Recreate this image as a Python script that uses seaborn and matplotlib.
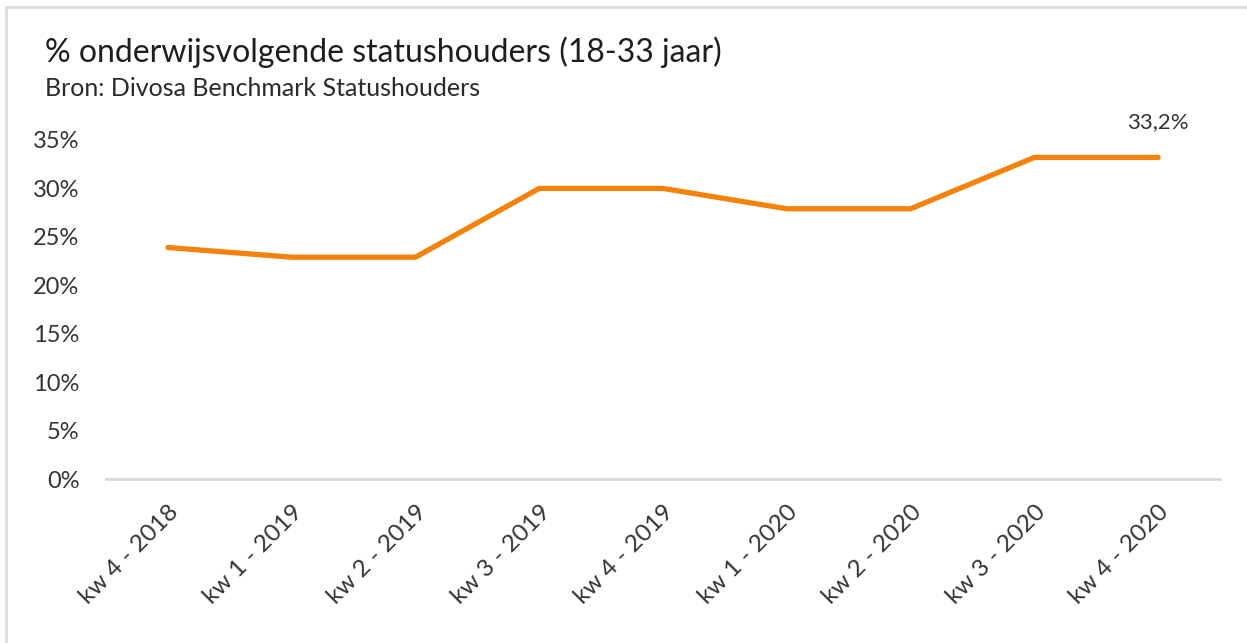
import matplotlib
matplotlib.use("Agg")
import matplotlib.pyplot as plt
import seaborn as sns
import pandas as pd
from matplotlib.lines import Line2D

# data
quarters = ["kw 4 - 2018", "kw 1 - 2019", "kw 2 - 2019", "kw 3 - 2019", "kw 4 - 2019",
            "kw 1 - 2020", "kw 2 - 2020", "kw 3 - 2020", "kw 4 - 2020"]
pct = [23.9, 22.9, 22.9, 30.0, 30.0, 27.9, 27.9, 33.2, 33.2]
yticks = [0, 5, 10, 15, 20, 25, 30, 35]

title = "% onderwijsvolgende statushouders (18-33 jaar)"
subtitle = "Bron: Divosa Benchmark Statushouders"

sns.set_style("white")
plt.rcParams["font.family"] = ["Lato", "DejaVu Sans"]

df = pd.DataFrame({"kwartaal": quarters, "pct": pct})
df["pos"] = range(len(df))

fig = plt.figure(figsize=(12.47, 6.43), dpi=100)
ax = fig.add_axes([106 / 1247, 1 - 479 / 643, (1220 - 106) / 1247, (479 - 140) / 643])

sns.lineplot(data=df, x="pos", y="pct", ax=ax, color="#f5820c", linewidth=3.8,
             solid_joinstyle="miter", solid_capstyle="round")

ax.set_xlim(-0.5, len(quarters) - 0.5)
ax.set_ylim(0, 35)
ax.set_yticks(yticks)
ax.set_yticklabels([f"{v}%" for v in yticks], fontsize=17, color="#333333")
ax.set_xticks(df["pos"])
ax.set_xticklabels(quarters, rotation=45, ha="right", rotation_mode="anchor",
                   fontsize=17.5, color="#333333")
ax.tick_params(axis="x", length=0, pad=16)
ax.tick_params(axis="y", length=0, pad=19)
ax.set_xlabel("")
ax.set_ylabel("")

for s in ["top", "right", "left"]:
    ax.spines[s].set_visible(False)
ax.spines["bottom"].set_color("#d9d9d9")
ax.spines["bottom"].set_linewidth(2)

# label at the last point
ax.annotate(f"{pct[-1]:.1f}%".replace(".", ","), (df["pos"].iloc[-1], pct[-1]),
            xytext=(0, 18), textcoords="offset points", ha="center", va="bottom",
            fontsize=16, color="#333333", annotation_clip=False)

fig.text(45 / 1247, 1 - 52 / 643, title, fontsize=23, color="#1e1e1e", va="center")
fig.text(45 / 1247, 1 - 88 / 643, subtitle, fontsize=18, color="#2a2a2a", va="center")

# panel border (top and left edge)
fig.add_artist(Line2D([6 / 1247, 1], [1 - 7 / 643, 1 - 7 / 643], transform=fig.transFigure,
                      color="#dddddd", linewidth=2))
fig.add_artist(Line2D([6 / 1247, 6 / 1247], [0, 1 - 7 / 643], transform=fig.transFigure,
                      color="#dddddd", linewidth=2))

fig.savefig("out.png", dpi=100)
